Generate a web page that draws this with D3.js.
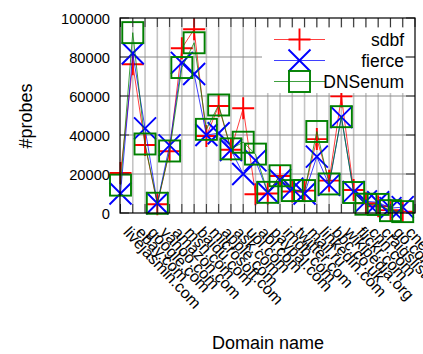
<!DOCTYPE html>
<html><head><meta charset="utf-8">
<script src="https://cdn.jsdelivr.net/npm/d3@7"></script>
<style>body{margin:0;background:#fff} text{font-family:"Liberation Sans",Arial,sans-serif;fill:#000}</style>
</head><body><svg id="c" width="423" height="354"></svg>
<script>
const domains = ["livejasmin.com","ebay.com","google.com","yahoo.com","amazon.com","msn.com","baidu.com","microsoft.com","apple.com","ask.com","uol.com","aol.com","paypal.com","imdb.com","twitter.com","mail.ru","linkedin.com","bbc.co.uk","wikipedia.org","flickr.com","cnn.com","craigslist.org","go.com","cnet.com"];
const sdbf    = [20500,76300,34900,4500,31700,84500,94200,39500,54900,32400,53700,9600,10000,19000,11000,11500,37900,16600,59800,11800,5000,3500,1500,700];
const fierce  = [10000,81900,43400,5000,34700,77000,71300,40000,40900,32300,20000,27000,10500,16900,12500,10000,28900,14400,49200,10800,6000,5500,2500,3000];
const dnsenum = [14300,92500,35400,5000,31800,74600,87300,42900,55400,32900,36300,30200,10600,19100,11500,11500,41800,14900,49400,10500,4500,4400,1200,700];
const yTicks = [0,20000,40000,60000,80000,100000];
const seriesNames = ["sdbf","fierce","DNSenum"];
const seriesColors = ["#ff0000","#0000ff","#008000"];
const seriesMarkers = ["plus","cross","square"];

const L=120, R=415, T=18, B=213;
const svg = d3.select("#c");
svg.append("rect").attr("width",423).attr("height",354).attr("fill","#fff");
const x = d3.scaleLinear().domain([0,24]).range([L+0.5,R]);
const y = d3.scaleLinear().domain([0,100000]).range([B,T]);
const xt = d3.range(0,25);

// grid
const g = svg.append("g");
g.selectAll(".vg").data(xt.slice(1,24)).join("line")
 .attr("x1",d=>x(d)).attr("x2",d=>x(d)).attr("y1",T).attr("y2",B)
 .attr("stroke","#c4c4c4").attr("stroke-width",1.6);
g.selectAll(".hg").data(yTicks.slice(1,5)).join("line")
 .attr("x1",L).attr("x2",R).attr("y1",d=>y(d)).attr("y2",d=>y(d))
 .attr("stroke","#8a8a8a").attr("stroke-width",1);

// series
const data = [sdbf,fierce,dnsenum];
const line = d3.line().x((d,i)=>x(i)).y(d=>y(d));
function marker(sel,type,color){
  const h=11;
  if(type==="plus"){
    sel.append("path").attr("d",`M${-h},0H${h}M0,${-h}V${h}`);
  } else if(type==="cross"){
    sel.append("path").attr("d",`M${-h},${-h}L${h},${h}M${-h},${h}L${h},${-h}`);
  } else {
    sel.append("rect").attr("x",-10.5).attr("y",-10.5).attr("width",21).attr("height",21);
  }
  sel.selectAll("path,rect").attr("fill","none").attr("stroke",color).attr("stroke-width",1.9);
}
data.forEach((vals,si)=>{
  const sg = svg.append("g");
  sg.append("path").datum(vals).attr("d",line).attr("fill","none")
    .attr("stroke",seriesColors[si]).attr("stroke-width",1).attr("stroke-opacity",0.75);
  vals.forEach((v,i)=>{
    const m = sg.append("g").attr("transform",`translate(${x(i)},${y(v)})`);
    marker(m,seriesMarkers[si],seriesColors[si]);
  });
});

// legend
const lg = svg.append("g");
lg.append("rect").attr("x",262).attr("y",28).attr("width",143).attr("height",65).attr("fill","#fff");
const ly = [39.5,60.5,81.5];
seriesNames.forEach((n,i)=>{
  lg.append("line").attr("x1",274).attr("x2",325).attr("y1",ly[i]).attr("y2",ly[i])
    .attr("stroke",seriesColors[i]).attr("stroke-width",1).attr("stroke-opacity",0.75);
  const m = lg.append("g").attr("transform",`translate(299.5,${ly[i]})`);
  marker(m,seriesMarkers[i],seriesColors[i]);
  lg.append("text").attr("x",404).attr("y",ly[i]+6).attr("text-anchor","end")
    .style("font-size","17.5px").text(n);
});

// ticks
const tk = svg.append("g").attr("stroke","#333").attr("stroke-width",1);
tk.selectAll(".bt").data(xt).join("line").attr("x1",d=>x(d)).attr("x2",d=>x(d)).attr("y1",B).attr("y2",B-9);
tk.selectAll(".tt").data(xt).join("line").attr("x1",d=>x(d)).attr("x2",d=>x(d)).attr("y1",T).attr("y2",T+9);
tk.selectAll(".lt").data(yTicks).join("line").attr("x1",L).attr("x2",L+9).attr("y1",d=>y(d)).attr("y2",d=>y(d));
tk.selectAll(".rt").data(yTicks).join("line").attr("x1",R).attr("x2",R-9).attr("y1",d=>y(d)).attr("y2",d=>y(d));

// border
svg.append("rect").attr("x",L).attr("y",T).attr("width",R-L).attr("height",B-T)
  .attr("fill","none").attr("stroke","#000").attr("stroke-width",1.2);

// y tick labels
svg.selectAll(".yl").data(yTicks).join("text").attr("x",110).attr("y",d=>y(d)+5.5)
  .attr("text-anchor","end").style("font-size","14.7px").text(d=>d);

// x tick labels
svg.selectAll(".xl").data(domains).join("text")
  .attr("transform",(d,i)=>`translate(${x(i)+2},${B+20}) rotate(47)`)
  .style("font-size","16px").text(d=>d);

// axis titles
svg.append("text").attr("transform","translate(32,116) rotate(-90)").attr("text-anchor","middle")
  .style("font-size","18px").text("#probes");
svg.append("text").attr("x",268).attr("y",349).attr("text-anchor","middle")
  .style("font-size","18px").text("Domain name");
</script></body></html>
